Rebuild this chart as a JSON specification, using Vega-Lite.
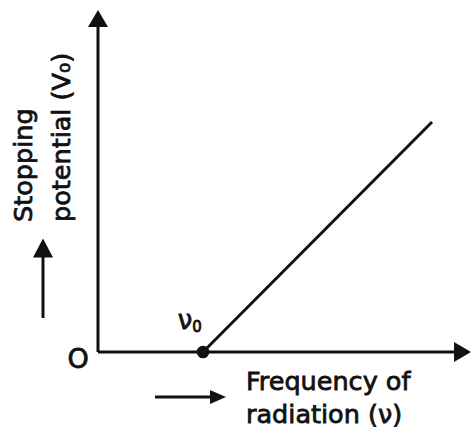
{
  "$schema": "https://vega.github.io/schema/vega-lite/v6.json",
  "width": 471,
  "height": 435,
  "autosize": {"type": "fit", "contains": "padding"},
  "padding": 0,
  "background": "white",
  "config": {"view": {"stroke": null}, "axis": {"disable": true}},
  "datasets": {
    "rules": [
      {"part": "y-axis", "x": 0, "y": 0, "x2": 0, "y2": 326},
      {"part": "x-axis", "x": 0, "y": 0, "x2": 357, "y2": 0},
      {"part": "graph", "x": 105, "y": 0, "x2": 334, "y2": 230},
      {"part": "freq-arrow", "x": 57, "y": -45, "x2": 118, "y2": -45},
      {"part": "pot-arrow", "x": -55, "y": 34, "x2": -55, "y2": 100}
    ],
    "heads": [
      {"dir": "up", "x": 0, "y": 333.5},
      {"dir": "right", "x": 364.5, "y": 0},
      {"dir": "rightsmall", "x": 120, "y": -45},
      {"dir": "upsmall", "x": -55, "y": 104}
    ],
    "dot": [{"x": 105, "y": 0}],
    "centered": [
      {"x": 87, "y": 31, "label": "ν", "fs": 26},
      {"x": 99, "y": 25, "label": "0", "fs": 15},
      {"x": -20, "y": -8, "label": "O", "fs": 27}
    ],
    "xlabel": [
      {"x": 148, "y": -38, "label": "Frequency of"},
      {"x": 148, "y": -71, "label": "radiation (ν)"}
    ],
    "ylabel": [
      {"x": -66, "y": 130, "label": "Stopping"},
      {"x": -28, "y": 130, "label": "potential (V₀)"}
    ]
  },
  "encoding": {
    "x": {"field": "x", "type": "quantitative", "scale": {"domain": [-98, 373], "nice": false, "zero": false}},
    "y": {"field": "y", "type": "quantitative", "scale": {"domain": [-83, 352], "nice": false, "zero": false}}
  },
  "layer": [
    {
      "data": {"name": "rules"},
      "mark": {"type": "rule", "color": "#111", "strokeWidth": 3},
      "encoding": {"x2": {"field": "x2"}, "y2": {"field": "y2"}}
    },
    {
      "data": {"name": "heads"},
      "mark": {"type": "point", "filled": true, "color": "#111", "opacity": 1, "size": 400},
      "encoding": {
        "shape": {
          "field": "dir", "type": "nominal", "legend": null,
          "scale": {
            "domain": ["up", "right", "rightsmall", "upsmall"],
            "range": ["M0,-0.85L1,0.85L-1,0.85Z", "M0.85,0L-0.85,1L-0.85,-1Z", "M0.8,0L-0.8,0.7L-0.8,-0.7Z", "M0,-0.95L1,0.95L-1,0.95Z"]
          }
        }
      }
    },
    {
      "data": {"name": "dot"},
      "mark": {"type": "circle", "color": "#111", "opacity": 1, "size": 160}
    },
    {
      "data": {"name": "centered"},
      "mark": {"type": "text", "font": "DejaVu Sans", "color": "#111", "stroke": "#111", "strokeWidth": 0.8, "align": "center", "baseline": "middle"},
      "encoding": {"text": {"field": "label"}, "size": {"field": "fs", "type": "quantitative", "scale": null}}
    },
    {
      "data": {"name": "xlabel"},
      "mark": {"type": "text", "font": "DejaVu Sans", "fontSize": 25.5, "color": "#111", "stroke": "#111", "strokeWidth": 0.8, "align": "left", "baseline": "alphabetic"},
      "encoding": {"text": {"field": "label"}}
    },
    {
      "data": {"name": "ylabel"},
      "mark": {"type": "text", "font": "DejaVu Sans", "fontSize": 25.5, "color": "#111", "stroke": "#111", "strokeWidth": 0.8, "align": "left", "baseline": "alphabetic", "angle": 270},
      "encoding": {"text": {"field": "label"}}
    }
  ]
}
